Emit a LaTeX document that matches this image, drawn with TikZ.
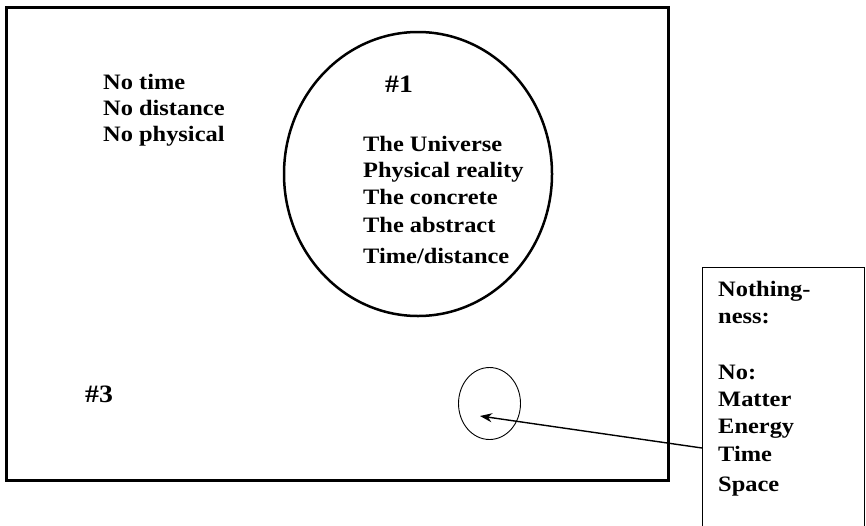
\documentclass[tikz,border=0pt]{standalone}
\usepackage{fontspec}
\newfontfamily\pf{Liberation Serif}[FakeStretch=1.11]
\usetikzlibrary{arrows.meta}
\tikzset{
  txt/.style={anchor=base west, inner sep=0pt, font=\pf\bfseries\fontsize{22}{25}\selectfont},
  big/.style={anchor=base west, inner sep=0pt, font=\pf\bfseries\fontsize{25}{29}\selectfont},
  frame/.style={draw, line width=3pt},
  bigell/.style={draw, line width=2.5pt},
  smallell/.style={draw, line width=0.9pt},
  notebox/.style={draw, line width=1pt},
  pointer/.style={draw, line width=1.4pt, -{Stealth[length=12pt,width=9pt]}}
}
\begin{document}
\begin{tikzpicture}[x=1pt,y=-1pt]
\useasboundingbox (0,0) rectangle (866,525);
\fill[white] (0,0) rectangle (866,525);
% main frame
\draw[frame] (6.5,7.5) rectangle (668,480);
% big ellipse
\draw[bigell] (418,174) ellipse [x radius=134, y radius=142];
% small ellipse
\draw[smallell] (489.5,403.5) ellipse [x radius=31, y radius=36];
% note box (open at bottom, clipped by the page)
\draw[notebox] (702,267) rectangle (864,545);
\coordinate (boxW) at (702,448);
\coordinate (tip) at (480,416);
\draw[pointer] (boxW) -- (tip);
% left texts
\node[txt] (t1) at (103,89) {No time};
\node[txt] (t2) at (103,115) {No distance};
\node[txt] (t3) at (103,141) {No physical};
% ellipse texts
\node[big] (h1) at (385,92) {\#1};
\node[txt] (u1) at (363,151) {The Universe};
\node[txt] (u2) at (363,177) {Physical reality};
\node[txt] (u3) at (363,204) {The concrete};
\node[txt] (u4) at (363,232) {The abstract};
\node[txt] (u5) at (363,263) {Time/distance};
% #3
\node[big] (h3) at (85,402) {\#3};
% box texts
\node[txt] (b1) at (718,296) {Nothing-};
\node[txt] (b2) at (718,323) {ness:};
\node[txt] (b3) at (718,379) {No:};
\node[txt] (b4) at (718,406) {Matter};
\node[txt] (b5) at (718,433) {Energy};
\node[txt] (b6) at (718,461) {Time};
\node[txt] (b7) at (718,491) {Space};
\end{tikzpicture}
\end{document}
